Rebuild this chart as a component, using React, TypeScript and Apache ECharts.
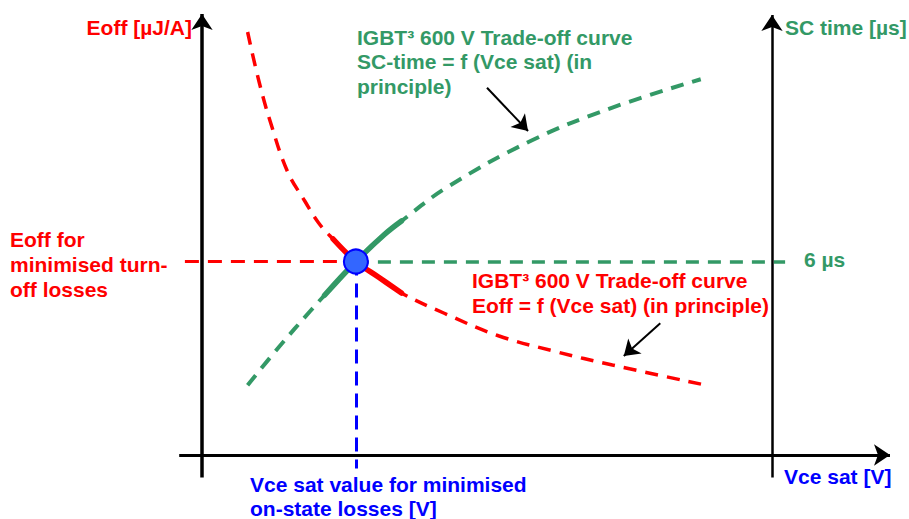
import React, { useEffect, useRef } from "react";
import * as echarts from "echarts";

// Conceptual trade-off curves (arbitrary units)
const eoffCurve: number[][] = [
  [0.8, 9.4], [1.0, 8.3], [1.2, 7.4], [1.5, 6.3], [1.8, 5.65], [2.05, 5.15],
  [2.3, 4.8], [2.7, 4.3], [3.1, 3.95], [3.5, 3.6], [4.25, 3.15], [5.2, 2.65],
  [6.2, 2.3], [7.2, 2.0], [8.85, 1.55],
];
const scCurve: number[][] = [
  [0.8, 1.55], [1.35, 2.4], [1.9, 3.2], [2.15, 3.55], [2.7, 4.3], [3.2, 4.9],
  [3.5, 5.2], [4.3, 5.95], [5.8, 7.0], [7.2, 7.72], [8.75, 8.35],
];
const eoffSolidRange = [2.2, 3.5];
const scSolidRange = [2.15, 3.5];
const optimum = [2.7, 4.3];
const rightAxisX = 10;

const eoffAxisTitle = "Eoff [µJ/A]";
const scAxisTitle = "SC time [µs]";
const xAxisTitle = "Vce sat [V]";
const scLevelLabel = "6 µs";
const scCurveTitle = ["IGBT³ 600 V Trade-off curve", "SC-time = f (Vce sat) (in", "principle)"];
const eoffCurveTitle = ["IGBT³ 600 V Trade-off curve", "Eoff = f (Vce sat) (in principle)"];
const eoffMinLabel = ["Eoff for", "minimised turn-", "off losses"];
const vceMinLabel = ["Vce sat value for minimised", "on-state losses [V]"];

const RED = "#ff0000";
const GREEN = "#339966";
const BLUE = "#0000ff";
const FONT = '"Liberation Sans", Arial, sans-serif';

function textLines(lines: string[], x: number, y0: number, dy: number, fill: string, align = "left") {
  return lines.map((t, i) => ({
    type: "text",
    x,
    y: y0 + i * dy,
    silent: true,
    style: {
      text: t,
      fill,
      fontFamily: FONT,
      fontWeight: "bold",
      fontSize: 21,
      textAlign: align,
      textVerticalAlign: "middle",
    },
  }));
}

export default function App() {
  const ref = useRef<HTMLDivElement>(null);
  useEffect(() => {
    if (!ref.current) return;
    const chart = echarts.init(ref.current, undefined, { renderer: "svg" });
    const inRange = (r: number[]) => (p: number[]) => p[0] >= r[0] && p[0] <= r[1];
    const ml = (from: number[], to: number[], color: string, width: number, type: any, endSym = "none") => [
      { coord: from, symbol: "none", lineStyle: { color, width, type } },
      { coord: to, symbol: endSym },
    ];
    const option: any = {
      animation: false,
      grid: { left: 179.2, top: 5, width: 723.9, height: 477, containLabel: false },
      xAxis: { type: "value", min: -0.4, max: 12.3, show: false },
      yAxis: [
        { type: "value", min: -0.6, max: 10, show: false },
        { type: "value", min: -0.6, max: 10, show: false },
      ],
      series: [
        {
          type: "line",
          data: [],
          silent: true,
          markLine: {
            silent: true,
            symbolSize: 16,
            label: { show: false },
            emphasis: { disabled: true },
            data: [
              // axes
              [
                { coord: [0, -0.5], symbol: "none", lineStyle: { color: "#000", width: 3.5, type: "solid" } },
                { coord: [0, 9.8], symbol: "arrow" },
              ],
              [
                { coord: [rightAxisX, -0.5], symbol: "none", lineStyle: { color: "#000", width: 2.5, type: "solid" } },
                { coord: [rightAxisX, 9.78], symbol: "arrow" },
              ],
              [
                { coord: [-0.4, 0], symbol: "none", lineStyle: { color: "#000", width: 3, type: "solid" } },
                { coord: [12.07, 0], symbol: "arrow" },
              ],
              // guide lines through optimum
              ml([-0.3, optimum[1]], optimum, RED, 3, [14, 9]),
              ml(optimum, [10.23, optimum[1]], GREEN, 3.5, [13, 9]),
              ml(optimum, [optimum[0], -0.3], BLUE, 3, [14, 8]),
            ],
          },
        },
        {
          type: "line",
          data: [],
          silent: true,
          markLine: {
            silent: true,
            symbolSize: 15,
            label: { show: false },
            emphasis: { disabled: true },
            data: [
              [
                { coord: [5.0, 8.16], symbol: "none", lineStyle: { color: "#000", width: 2, type: "solid" } },
                { coord: [5.72, 7.2], symbol: "arrow" },
              ],
              [
                { coord: [8.04, 2.93], symbol: "none", lineStyle: { color: "#000", width: 2, type: "solid" } },
                { coord: [7.4, 2.2], symbol: "arrow" },
              ],
            ],
          },
        },
        {
          name: "Eoff",
          type: "line",
          data: eoffCurve,
          smooth: 0.4,
          showSymbol: false,
          silent: true,
          lineStyle: { color: RED, width: 3.5, type: [13, 9] },
        },
        {
          name: "Eoff optimum region",
          type: "line",
          data: eoffCurve.filter(inRange(eoffSolidRange)),
          smooth: 0.4,
          showSymbol: false,
          silent: true,
          lineStyle: { color: RED, width: 5.5, type: "solid", cap: "round" },
        },
        {
          name: "SC time",
          type: "line",
          yAxisIndex: 1,
          data: scCurve,
          smooth: 0.4,
          showSymbol: false,
          silent: true,
          lineStyle: { color: GREEN, width: 4, type: [13, 9] },
        },
        {
          name: "SC time optimum region",
          type: "line",
          yAxisIndex: 1,
          data: scCurve.filter(inRange(scSolidRange)),
          smooth: 0.4,
          showSymbol: false,
          silent: true,
          lineStyle: { color: GREEN, width: 5.5, type: "solid", cap: "round" },
        },
        {
          name: "Optimum",
          type: "scatter",
          data: [optimum],
          symbol: "circle",
          symbolSize: 24,
          silent: true,
          z: 10,
          itemStyle: { color: "#3366ff", borderColor: BLUE, borderWidth: 2, opacity: 1 },
        },
      ],
      graphic: [
        ...textLines([eoffAxisTitle], 192, 27, 0, RED, "right"),
        ...textLines([scAxisTitle], 785, 27, 0, GREEN),
        ...textLines([xAxisTitle], 784, 476, 0, BLUE),
        ...textLines(scCurveTitle, 357, 37, 24.5, GREEN),
        ...textLines(eoffCurveTitle, 472, 280, 25.5, RED),
        ...textLines(eoffMinLabel, 10, 239, 25, RED),
        ...textLines(vceMinLabel, 250, 484, 24, BLUE),
        ...textLines([scLevelLabel], 804, 259, 0, GREEN),
      ],
    };
    chart.setOption(option);
    return () => chart.dispose();
  }, []);
  return (
    <div
      ref={ref}
      style={{ position: "fixed", left: 0, top: 0, width: 909, height: 519, background: "#fff" }}
    />
  );
}
